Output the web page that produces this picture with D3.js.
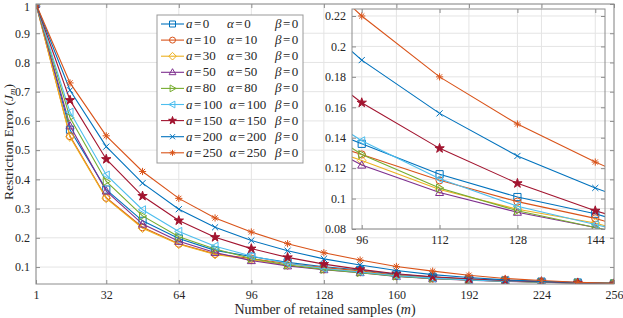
<!DOCTYPE html>
<html>
<head>
<meta charset="utf-8">
<script src="https://cdn.jsdelivr.net/npm/d3@7"></script>
<style>
  body { margin: 0; background: #fff; }
  svg { display: block; }
  text { font-family: "Liberation Serif", "DejaVu Serif", serif; fill: #262626; }
</style>
</head>
<body>
<div id="chart"></div>
<script>
// retained samples m
const samples = [1, 16, 32, 48, 64, 80, 96, 112, 128, 144, 160, 176, 192, 208, 224, 240, 256];

// restriction error J_m for each parameter setting
const err_a0   = [1, 0.570, 0.365, 0.258, 0.198, 0.157, 0.136, 0.116, 0.101, 0.090, 0.075, 0.066, 0.059, 0.054, 0.050, 0.047, 0.044];
const err_a10  = [1, 0.548, 0.337, 0.236, 0.180, 0.145, 0.129, 0.112, 0.098, 0.087, 0.072, 0.064, 0.058, 0.053, 0.049, 0.046, 0.044];
const err_a30  = [1, 0.545, 0.335, 0.233, 0.178, 0.143, 0.125, 0.106, 0.093, 0.084, 0.069, 0.061, 0.056, 0.052, 0.048, 0.046, 0.044];
const err_a50  = [1, 0.583, 0.360, 0.247, 0.188, 0.150, 0.122, 0.104, 0.091, 0.081, 0.068, 0.060, 0.055, 0.051, 0.048, 0.045, 0.043];
const err_a80  = [1, 0.611, 0.393, 0.275, 0.204, 0.162, 0.129, 0.107, 0.092, 0.081, 0.069, 0.061, 0.056, 0.052, 0.048, 0.046, 0.044];
const err_a100 = [1, 0.630, 0.415, 0.296, 0.222, 0.171, 0.138, 0.113, 0.095, 0.083, 0.070, 0.062, 0.056, 0.052, 0.049, 0.046, 0.044];
const err_a150 = [1, 0.671, 0.469, 0.343, 0.259, 0.202, 0.163, 0.133, 0.110, 0.092, 0.077, 0.067, 0.060, 0.054, 0.050, 0.046, 0.043];
const err_a200 = [1, 0.705, 0.512, 0.387, 0.298, 0.236, 0.191, 0.156, 0.128, 0.107, 0.088, 0.074, 0.064, 0.056, 0.051, 0.047, 0.044];
const err_a250 = [1, 0.730, 0.549, 0.427, 0.335, 0.268, 0.220, 0.180, 0.149, 0.124, 0.102, 0.086, 0.072, 0.061, 0.054, 0.048, 0.044];

const aValues     = [0, 10, 30, 50, 80, 100, 150, 200, 250];
const alphaValues = [0, 10, 30, 50, 80, 100, 150, 200, 250];
const betaValues  = [0, 0, 0, 0, 0, 0, 0, 0, 0];

const xTicks      = [1, 32, 64, 96, 128, 160, 192, 224, 256];
const yTicks      = [0.1, 0.2, 0.3, 0.4, 0.5, 0.6, 0.7, 0.8, 0.9, 1];
const insetXTicks = [96, 112, 128, 144];
const insetYTicks = [0.08, 0.1, 0.12, 0.14, 0.16, 0.18, 0.2, 0.22];

const allErrors = [err_a0, err_a10, err_a30, err_a50, err_a80, err_a100, err_a150, err_a200, err_a250];

// MATLAB default colours and marker types
const colors  = ['#0072BD', '#D95319', '#EDB120', '#7E2F8E', '#77AC30', '#4DBEEE', '#A2142F', '#0072BD', '#D95319'];
const markers = ['square', 'circle', 'diamond', 'up', 'right', 'left', 'star', 'x', 'asterisk'];

const series = allErrors.map((vals, i) => ({
	a: aValues[i], alpha: alphaValues[i], beta: betaValues[i],
	color: colors[i], marker: markers[i],
	points: samples.map((m, j) => ({ m: m, v: vals[j] }))
}));

const W = 623, H = 318;
const svg = d3.select('#chart').append('svg').attr('width', W).attr('height', H);

const gridColor = '#e4e4e4';
const axisColor = '#8c8c8c';

// marker path centred at 0,0
function markerPath(type, r) {
	switch (type) {
		case 'square': return `M${-r},${-r}H${r}V${r}H${-r}Z`;
		case 'circle': return d3.symbol(d3.symbolCircle, Math.PI * r * r)();
		case 'diamond': return `M0,${-r - 0.8}L${r + 0.8},0L0,${r + 0.8}L${-r - 0.8},0Z`;
		case 'up': return `M0,${-r - 0.6}L${r + 0.4},${r - 0.6}L${-r - 0.4},${r - 0.6}Z`;
		case 'right': return `M${r + 0.6},0L${-r + 0.6},${r + 0.4}L${-r + 0.6},${-r - 0.4}Z`;
		case 'left': return `M${-r - 0.6},0L${r - 0.6},${r + 0.4}L${r - 0.6},${-r - 0.4}Z`;
		case 'star': return d3.symbol(d3.symbolStar, 2.1 * r * r)();
		case 'x': return `M${-r * 0.85},${-r * 0.85}L${r * 0.85},${r * 0.85}M${-r * 0.85},${r * 0.85}L${r * 0.85},${-r * 0.85}`;
		case 'asterisk': {
			const d = r * 0.72;
			return `M${-r},0H${r}M0,${-r}V${r}M${-d},${-d}L${d},${d}M${-d},${d}L${d},${-d}`;
		}
	}
}

function drawMarker(sel, s, r) {
	sel.append('path')
		.attr('d', markerPath(s.marker, r))
		.attr('fill', s.marker === 'star' ? s.color : 'none')
		.attr('stroke', s.color)
		.attr('stroke-width', 1);
}

// one set of axes (grid, lines, markers, box, ticks)
function drawAxes(opts) {
	const { x, y, xt, yt, id, fontSize, xFmt, yFmt } = opts;
	const [x0, x1] = x.range();
	const [y0, y1] = y.range(); // y0 bottom, y1 top
	const g = svg.append('g');

	g.append('clipPath').attr('id', id)
		.append('rect').attr('x', x0).attr('y', y1).attr('width', x1 - x0).attr('height', y0 - y1);

	// grid
	g.append('g').selectAll('line').data(xt).enter().append('line')
		.attr('x1', d => x(d)).attr('x2', d => x(d)).attr('y1', y1).attr('y2', y0)
		.attr('stroke', gridColor).attr('stroke-width', 1);
	g.append('g').selectAll('line').data(yt).enter().append('line')
		.attr('x1', x0).attr('x2', x1).attr('y1', d => y(d)).attr('y2', d => y(d))
		.attr('stroke', gridColor).attr('stroke-width', 1);

	// data
	const line = d3.line().x(d => x(d.m)).y(d => y(d.v));
	const plot = g.append('g').attr('clip-path', `url(#${id})`);
	series.forEach(s => {
		plot.append('path').datum(s.points)
			.attr('d', line).attr('fill', 'none')
			.attr('stroke', s.color).attr('stroke-width', 1.1);
		plot.append('g').selectAll('g').data(s.points).enter().append('g')
			.attr('transform', d => `translate(${x(d.m)},${y(d.v)})`)
			.each(function () { drawMarker(d3.select(this), s, 3.6); });
	});

	// box
	g.append('rect').attr('x', x0).attr('y', y1).attr('width', x1 - x0).attr('height', y0 - y1)
		.attr('fill', 'none').attr('stroke', axisColor).attr('stroke-width', 1);

	// x axis (ticks pointing inward)
	const xa = g.append('g').attr('transform', `translate(0,${y0})`)
		.call(d3.axisBottom(x).tickValues(xt).tickFormat(xFmt).tickSizeInner(-4).tickSizeOuter(0).tickPadding(6));
	const xtop = g.append('g').attr('transform', `translate(0,${y1})`)
		.call(d3.axisTop(x).tickValues(xt).tickFormat('').tickSizeInner(-4).tickSizeOuter(0));
	const ya = g.append('g').attr('transform', `translate(${x0},0)`)
		.call(d3.axisLeft(y).tickValues(yt).tickFormat(yFmt).tickSizeInner(-4).tickSizeOuter(0).tickPadding(6));
	const yright = g.append('g').attr('transform', `translate(${x1},0)`)
		.call(d3.axisRight(y).tickValues(yt).tickFormat('').tickSizeInner(-4).tickSizeOuter(0));
	[xa, xtop, ya, yright].forEach(a => {
		a.select('.domain').remove();
		a.selectAll('line').attr('stroke', axisColor);
		a.selectAll('text').attr('font-size', fontSize).attr('fill', '#262626')
			.style('font-family', '"Liberation Serif", serif');
	});
	// keep the top tick label inside the picture
	ya.selectAll('text').filter(d => y(d) < 8).attr('dy', '0.55em');
	return g;
}

// main axes
const x = d3.scaleLinear().domain([1, 256]).range([36, 614]);
const y = d3.scaleLinear().domain([0.042, 1]).range([284, 4]);
drawAxes({ x, y, xt: xTicks, yt: yTicks, id: 'clipMain', fontSize: 12,
	xFmt: d3.format('d'), yFmt: d => (d === 1 ? '1' : d3.format('.1f')(d)) });

// legend
const legend = svg.append('g');
const lx = 157, ly = 15, lw = 146, lh = 148;
legend.append('rect').attr('x', lx).attr('y', ly).attr('width', lw).attr('height', lh)
	.attr('fill', '#fff').attr('stroke', '#999').attr('stroke-width', 1);

function mathLabel(row, xPos, cy, sym, val) {
	const t = row.append('text').attr('x', xPos).attr('y', cy + 4).attr('font-size', 13);
	t.append('tspan').attr('font-style', 'italic').text(sym);
	t.append('tspan').attr('dx', 1.5).text('=');
	t.append('tspan').attr('dx', 1.5).text(val);
}

series.forEach((s, i) => {
	const cy = 24 + i * 16.1;
	const row = legend.append('g');
	row.append('line').attr('x1', 161).attr('x2', 184).attr('y1', cy).attr('y2', cy)
		.attr('stroke', s.color).attr('stroke-width', 1.1);
	drawMarker(row.append('g').attr('transform', `translate(172.5,${cy})`), s, 3);
	mathLabel(row, 186, cy, 'a', s.a);
	mathLabel(row, s.alpha >= 100 ? 229.5 : 227, cy, 'α', s.alpha);
	mathLabel(row, 275, cy, 'β', s.beta);
});

// inset (transparent background)
const xi = d3.scaleLinear().domain([94, 146]).range([352, 605]);
const yi = d3.scaleLinear().domain([0.08, 0.2246]).range([229, 9]);
drawAxes({ x: xi, y: yi, xt: insetXTicks, yt: insetYTicks, id: 'clipInset', fontSize: 12,
	xFmt: d3.format('d'), yFmt: d => d3.format('.2~f')(d) });

// axis titles
svg.append('text').attr('x', 325).attr('y', 314).attr('text-anchor', 'middle').attr('font-size', 14)
	.call(t => {
		t.append('tspan').text('Number of retained samples (');
		t.append('tspan').attr('font-style', 'italic').text('m');
		t.append('tspan').text(')');
	});
svg.append('text').attr('transform', 'translate(13,142) rotate(-90)').attr('text-anchor', 'middle').attr('font-size', 13.5)
	.call(t => {
		t.append('tspan').text('Restriction Error (');
		t.append('tspan').attr('font-style', 'italic').text('J');
		t.append('tspan').attr('font-style', 'italic').attr('font-size', 9).attr('dy', 2).text('m');
		t.append('tspan').attr('dy', -2).text(')');
	});
</script>
</body>
</html>
